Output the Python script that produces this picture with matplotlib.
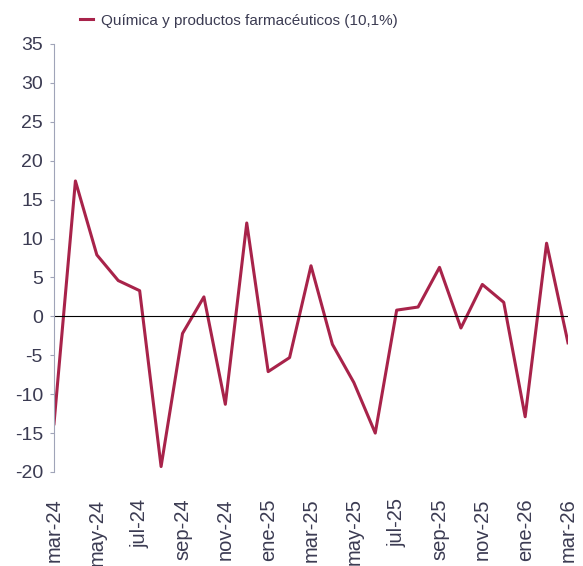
import matplotlib
matplotlib.use("Agg")
from matplotlib import pyplot as plt
from matplotlib import transforms

# months shown on the x axis (one label every two months)
months = ["mar-24", "abr-24", "may-24", "jun-24", "jul-24", "ago-24", "sep-24",
          "oct-24", "nov-24", "dic-24", "ene-25", "feb-25", "mar-25", "abr-25",
          "may-25", "jun-25", "jul-25", "ago-25", "sep-25", "oct-25", "nov-25",
          "dic-25", "ene-26", "feb-26", "mar-26"]
values = [-13.8, 17.4, 7.9, 4.6, 3.3, -19.3, -2.2, 2.5, -11.3, 12.0, -7.1,
          -5.3, 6.5, -3.6, -8.5, -15.0, 0.8, 1.2, 6.3, -1.5, 4.1, 1.8, -12.9,
          9.4, -3.4]
yticks = [35, 30, 25, 20, 15, 10, 5, 0, -5, -10, -15, -20]

plt.rcParams['font.family'] = ['Liberation Sans', 'DejaVu Sans']
txt = '#3b3b52'
red = '#a8234a'

fig = plt.figure(figsize=(5.83, 5.66), dpi=100)
ax = fig.add_axes([54/583, 1-472/566, (568-54)/583, (472-44)/566])

x = list(range(len(months)))
ax.plot(x, values, color=red, linewidth=2.2, label="Química y productos farmacéuticos (10,1%)")
ax.axhline(0, color='black', linewidth=0.8)

ax.set_xlim(0, len(months)-1)
ax.set_ylim(-20, 35)
ax.set_yticks(yticks)
ax.set_yticklabels([str(v) for v in yticks], fontsize=14, color=txt)
ax.set_xticks(x[::2])
ax.set_xticklabels(months[::2], rotation=90, fontsize=14.5, color=txt)

# labels sit slightly right of the tick positions in the original
shift = transforms.ScaledTranslation(3/100, 0, fig.dpi_scale_trans)
for lbl in ax.get_xticklabels():
    lbl.set_transform(lbl.get_transform() + shift)

for s in ['top', 'right', 'bottom']:
    ax.spines[s].set_visible(False)
ax.spines['left'].set_color('#a0a4b8')
ax.tick_params(axis='y', color='#a0a4b8', length=3, pad=5)
ax.tick_params(axis='x', length=0, pad=19)

leg = ax.legend(loc='lower left', bbox_to_anchor=(0.05, 1.038), frameon=False,
                fontsize=11, handlelength=0.9, handletextpad=0.5,
                borderaxespad=0, borderpad=0)
for t in leg.get_texts():
    t.set_color(txt)

fig.savefig("out.png", dpi=100)
